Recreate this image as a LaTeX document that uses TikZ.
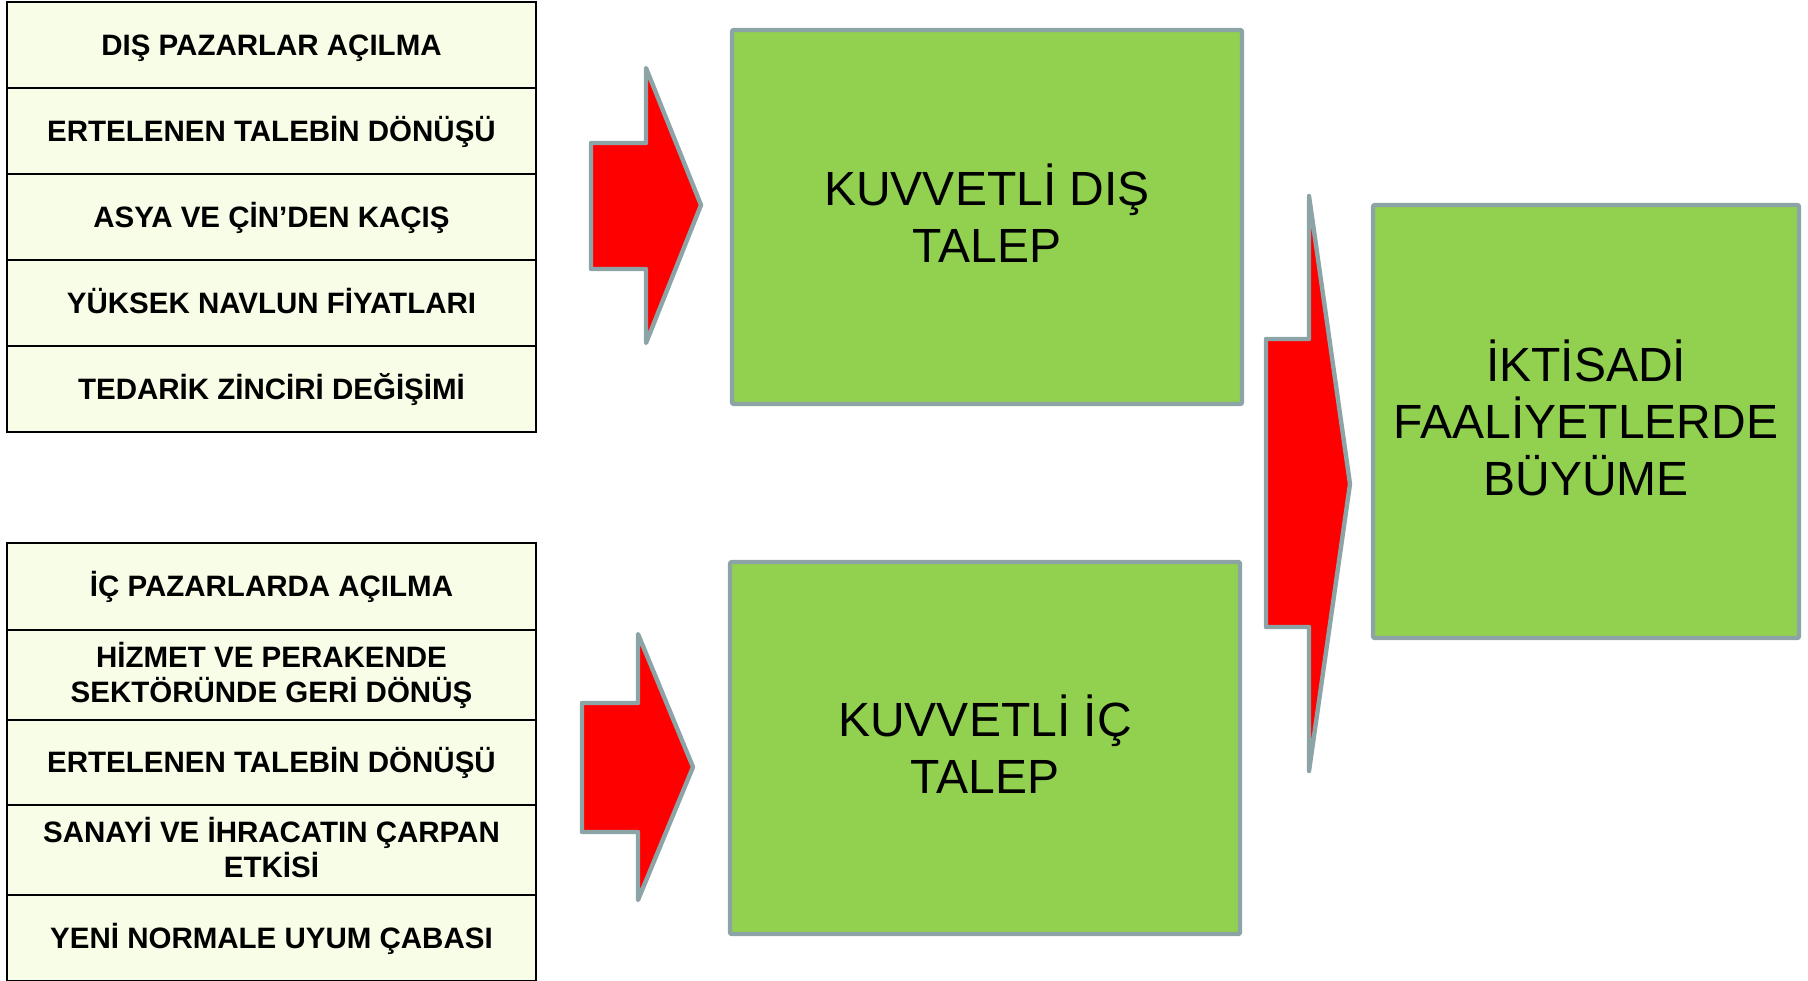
\documentclass[tikz,border=0pt]{standalone}
\usepackage{fontspec}
\setmainfont{Liberation Sans}
\definecolor{cellfill}{HTML}{F8FDE8}
\definecolor{boxgreen}{HTML}{92D050}
\definecolor{edgegray}{HTML}{8CA4A6}
\definecolor{arrowred}{HTML}{FF0000}
\begin{document}
\begin{tikzpicture}[x=0.5pt,y=-0.5pt,
  cell/.style={draw=black, line width=1pt, fill=cellfill, minimum width=264.5pt,
    inner sep=0pt, align=center, font=\fontsize{14.75}{17.3}\selectfont\bfseries,
    text height=13.4pt, text depth=3.2pt},
  cell2/.style={cell, text height=30.7pt},
  gbox/.style={draw=edgegray, line width=2.2pt, fill=boxgreen, inner sep=0pt,
    align=center, font=\fontsize{24}{28.5}\selectfont, rounded corners=1pt,
    text depth=5.1pt},
  barrow/.style={draw=edgegray, line width=2.2pt, fill=arrowred, line join=round}]
\useasboundingbox (0,0) rectangle (1808,980);
% top list
\node[cell, minimum height=43pt] (t1) at (271.5,45) {DIŞ PAZARLAR AÇILMA};
\node[cell, minimum height=43pt] (t2) at (271.5,131) {ERTELENEN TALEBİN DÖNÜŞÜ};
\node[cell, minimum height=43pt] (t3) at (271.5,217) {ASYA VE ÇİN’DEN KAÇIŞ};
\node[cell, minimum height=43pt] (t4) at (271.5,303) {YÜKSEK NAVLUN FİYATLARI};
\node[cell, minimum height=43pt] (t5) at (271.5,389) {TEDARİK ZİNCİRİ DEĞİŞİMİ};
% bottom list
\node[cell, minimum height=43.5pt] (b1) at (271.5,586.5) {İÇ PAZARLARDA AÇILMA};
\node[cell2, minimum height=45pt] (b2) at (271.5,675) {HİZMET VE PERAKENDE\\SEKTÖRÜNDE GERİ DÖNÜŞ};
\node[cell, minimum height=42.5pt] (b3) at (271.5,762.5) {ERTELENEN TALEBİN DÖNÜŞÜ};
\node[cell2, minimum height=45pt] (b4) at (271.5,850) {SANAYİ VE İHRACATIN ÇARPAN\\ETKİSİ};
\node[cell, minimum height=43pt] (b5) at (271.5,938) {YENİ NORMALE UYUM ÇABASI};
% green boxes
\node[gbox, text height=50.2pt, minimum width=255pt, minimum height=187pt] (dis) at (987,217) {KUVVETLİ DIŞ\\TALEP};
\node[gbox, text height=50.2pt, minimum width=255pt, minimum height=186pt] (ic) at (985,748) {KUVVETLİ İÇ\\TALEP};
\node[gbox, text height=78.7pt, minimum width=213pt, minimum height=216.5pt] (buyume) at (1586,421.5) {İKTİSADİ\\FAALİYETLERDE\\BÜYÜME};
% block arrows
\draw[barrow] (591,143) -- (646,143) -- (646,68) -- (701,205) -- (646,343) -- (646,269) -- (591,269) -- cycle;
\draw[barrow] (582,703) -- (638,703) -- (638,634) -- (693,767) -- (638,900) -- (638,832) -- (582,832) -- cycle;
\draw[barrow] (1266,339) -- (1309,339) -- (1309,196) -- (1350,484) -- (1309,771) -- (1309,627) -- (1266,627) -- cycle;
\end{tikzpicture}
\end{document}
